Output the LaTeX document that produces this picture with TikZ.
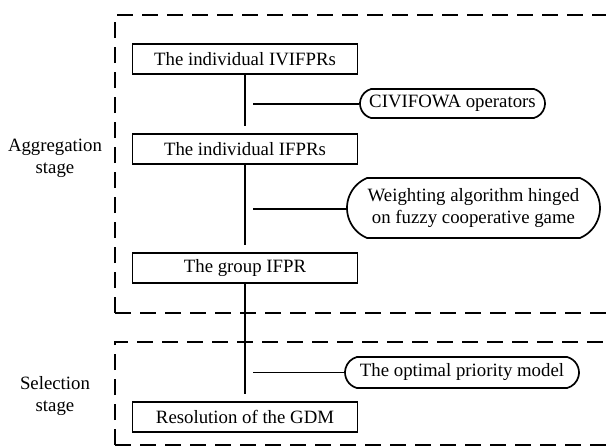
\documentclass[tikz,border=0pt]{standalone}
\usepackage{fontspec}
\setmainfont{Liberation Serif}
\usetikzlibrary{shapes.misc}
\begin{document}
\begin{tikzpicture}[x=1pt,y=-1pt,
  stagebox/.style={draw,line width=1.8pt,dash pattern=on 16pt off 9pt},
  procbox/.style={draw,line width=1.7pt,minimum width=225pt,minimum height=30pt,inner sep=0pt,font=\fontsize{18.8}{22}\selectfont},
  toolbox/.style={draw,line width=1.7pt,rounded rectangle,rounded rectangle arc length=150,inner sep=0pt,align=center,font=\fontsize{18.8}{22}\selectfont},
  link/.style={line width=1.7pt},
  stagelabel/.style={align=center,inner sep=0pt,font=\fontsize{18.8}{22}\selectfont}]
\useasboundingbox (0,0) rectangle (606,447);
% stage frames
\draw[stagebox] (115,313) -- (115,15) -- (606,15);
\draw[stagebox] (115,313) -- (606,313);
\draw[stagebox] (115,445) -- (115,342) -- (606,342);
\draw[stagebox] (115,445) -- (606,445);
% labels
\node[stagelabel] (agg) at (55,158) {Aggregation\\stage};
\node[stagelabel] (sel) at (55,396) {Selection\\stage};
% process boxes
\node[procbox] (ind) at (245,59) {The individual IVIFPRs};
\node[procbox] (ifpr) at (245,149) {The individual IFPRs};
\node[procbox] (grp) at (245,268) {The group IFPR};
\node[procbox] (res) at (245,417) {Resolution of the GDM};
% tools
\node[toolbox,minimum width=185pt,minimum height=29pt] (civ) at (452.5,103.5) {CIVIFOWA operators};
\node[toolbox,rounded rectangle arc length=135,minimum width=253pt,minimum height=60pt] (wgt) at (473.5,208) {Weighting algorithm hinged\\on fuzzy cooperative game};
\node[toolbox,minimum width=234pt,minimum height=31pt] (opt) at (462,372.5) {The optimal priority model};
% connectors
\coordinate (e1) at (245,126);
\coordinate (e2) at (245,245);
\coordinate (e3) at (245,394);
\coordinate (h1) at (253,104);
\coordinate (h2) at (253,209);
\coordinate (h3) at (253,372.5);
\draw[link] (ind.south) -- (e1);
\draw[link] (ifpr.south) -- (e2);
\draw[link] (grp.south) -- (e3);
\draw[link] (h1) -- (h1 -| civ.west);
\draw[link] (h2) -- (h2 -| wgt.west);
\draw[link] (h3) -- (h3 -| opt.west);
\end{tikzpicture}
\end{document}
